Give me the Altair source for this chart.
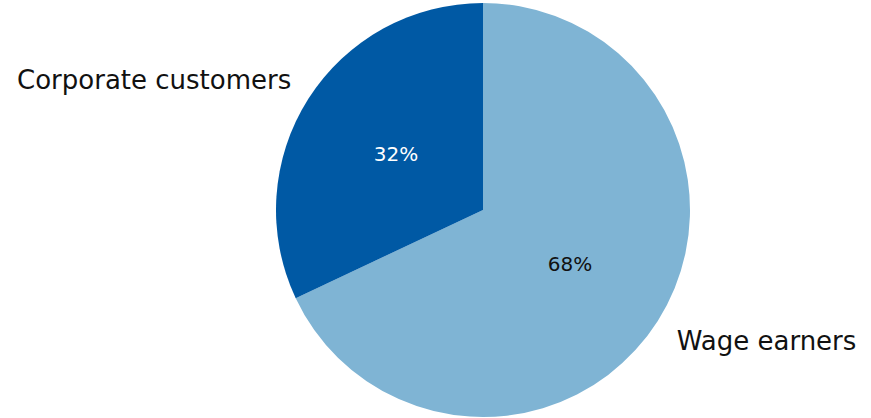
import altair as alt
import pandas as pd

categories = ["Wage earners", "Corporate customers"]
shares = [68, 32]
labels = ["68%", "32%"]
sides = ["right", "left"]
order = [1, 2]

df = pd.DataFrame({"category": categories, "share": shares, "label": labels,
                   "side": sides, "order": order})

CX, CY = 483, 210
font = "DejaVu Sans"
theta_scale = alt.Scale(domain=[0, 100], range=[0, 6.283185307179586])

pie = alt.Chart(df).mark_arc(stroke=None).encode(
    theta=alt.Theta("share:Q", stack=True, scale=theta_scale),
    order=alt.Order("order:Q", sort="ascending"),
    x=alt.value(CX), y=alt.value(CY), radius=alt.value(207),
    color=alt.Color("category:N", scale=alt.Scale(domain=categories,
                    range=["#7fb4d4", "#0059a4"]), legend=None),
)

tb = alt.Chart(df).transform_window(
    cum="sum(share)", sort=[alt.SortField("order")],
    frame=[None, 0],
).transform_calculate(mid="datum.cum - datum.share / 2")

inner = tb.mark_text(font=font, fontSize=20).encode(
    theta=alt.Theta("mid:Q", stack=None, scale=theta_scale),
    x=alt.value(CX), y=alt.value(CY), radius=alt.value(103),
    text="label:N",
    color=alt.Color("category:N", scale=alt.Scale(domain=categories,
                    range=["#111111", "#ffffff"]), legend=None),
)

outer_r = tb.transform_filter(alt.datum.side == "right").mark_text(
    font=font, fontSize=26, align="left", baseline="middle", color="#111111",
    dx=-3, dy=7).encode(
    theta=alt.Theta("mid:Q", stack=None, scale=theta_scale),
    x=alt.value(CX), y=alt.value(CY), radius=alt.value(233), text="category:N",
)

outer_l = tb.transform_filter(alt.datum.side == "left").mark_text(
    font=font, fontSize=26, align="right", baseline="middle", color="#111111",
    dx=5, dy=-4).encode(
    theta=alt.Theta("mid:Q", stack=None, scale=theta_scale),
    x=alt.value(CX), y=alt.value(CY), radius=alt.value(233), text="category:N",
)

chart = alt.layer(pie, inner, outer_r, outer_l).resolve_scale(color="independent").properties(
    width=871, height=418, autosize=alt.AutoSizeParams(type="none"), padding=0,
).configure_view(stroke=None)

chart.save("out.html", embed_options={"renderer": "svg", "actions": False})
